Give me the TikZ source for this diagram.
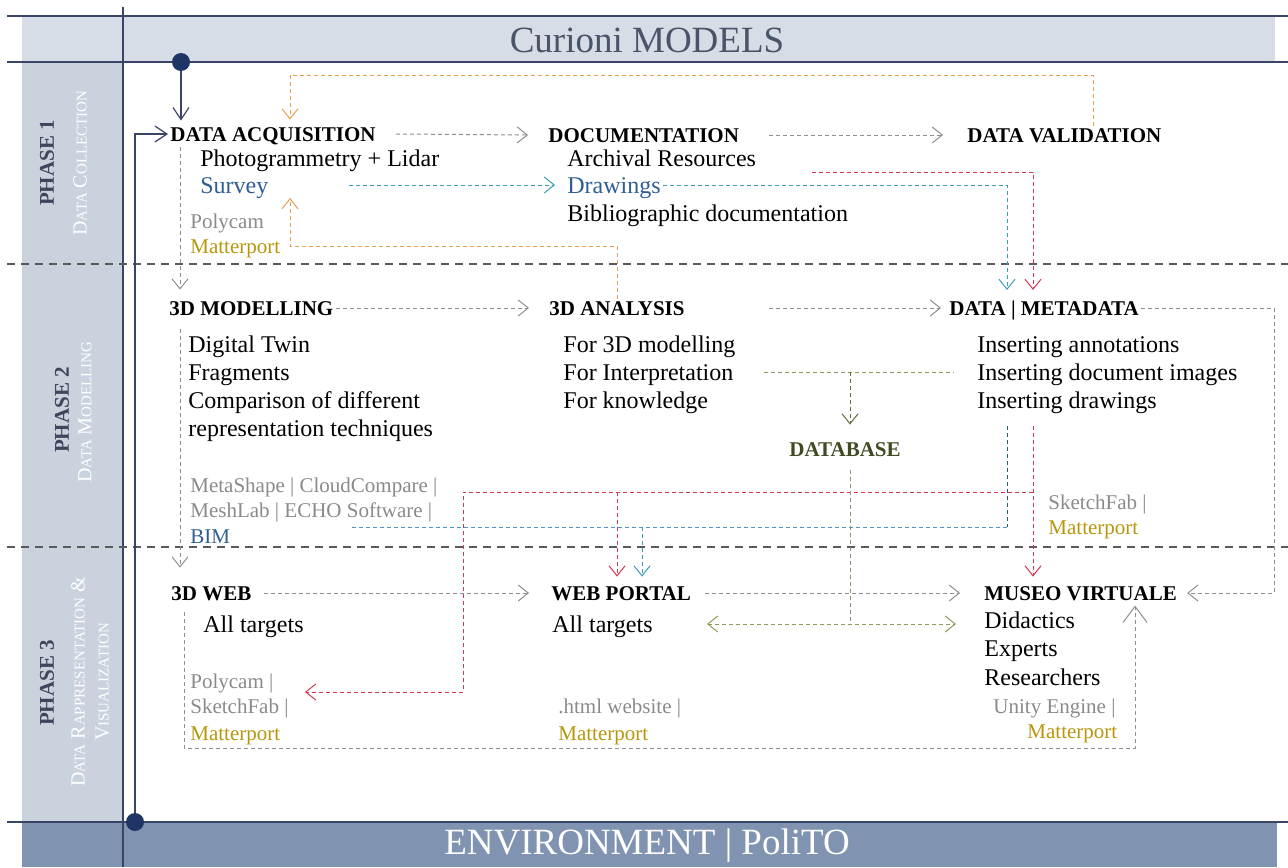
\documentclass[tikz,border=0pt]{standalone}
\usepackage{fontspec}
\setmainfont{Liberation Serif}
\usepackage{tikz}
\usetikzlibrary{arrows.meta}
\newcommand{\dotrad}{9pt}
\newcommand{\smc}[2]{#1{\fontsize{7.5}{9}\selectfont #2}}
\definecolor{navy}{HTML}{1F3566}
\definecolor{framec}{HTML}{3A4466}
\definecolor{bandtop}{HTML}{D7DDE7}
\definecolor{bandside}{HTML}{CAD2DE}
\definecolor{bandbot}{HTML}{8094B2}
\definecolor{titlec}{HTML}{4A5468}
\definecolor{phasec}{HTML}{3C465C}
\definecolor{linkgray}{HTML}{8E8E8E}
\definecolor{sepgray}{HTML}{5A5A5A}
\definecolor{orgc}{HTML}{E6A052}
\definecolor{tealc}{HTML}{3A9DB8}
\definecolor{bluec}{HTML}{4F94C8}
\definecolor{redc}{HTML}{D6364F}
\definecolor{olivec}{HTML}{8C9C58}
\definecolor{survc}{HTML}{2F5E94}
\definecolor{goldc}{HTML}{B8960C}
\definecolor{toolc}{HTML}{8A8A8A}
\definecolor{dbc}{HTML}{3F4B22}

\tikzset{
  head/.style={font=\bfseries\fontsize{10.5}{12}\selectfont, anchor=base west,
    inner sep=1pt, text height=7pt, text depth=0pt},
  item/.style={font=\fontsize{12}{14}\selectfont, anchor=base west,
    inner sep=1pt, text height=8pt, text depth=0pt},
  tool/.style={font=\fontsize{10.5}{12}\selectfont, anchor=base west,
    inner sep=1pt, text height=7pt, text depth=0pt, text=toolc},
  dl/.style={draw=#1, line width=.5pt, dash pattern=on 2pt off 1.5pt},
  dl/.default=linkgray,
  arr/.style={-{Straight Barb[length=5pt,width=8pt]}},
  arrboth/.style={{Straight Barb[length=5pt,width=8pt]}-{Straight Barb[length=5pt,width=8pt]}},
  sep/.style={draw=sepgray, line width=.8pt, dash pattern=on 4pt off 3pt},
  frame/.style={draw=framec, line width=.8pt},
  spine/.style={draw=framec, line width=.6pt, -{Straight Barb[length=6pt,width=8pt]}},
  dot/.style={circle, fill=navy, inner sep=0pt, minimum size=\dotrad},
  phase/.style={rotate=90, font=\bfseries\fontsize{10.5}{12}\selectfont, text=phasec},
  phasesub/.style={rotate=90, font=\fontsize{10}{12}\selectfont, text=white, align=center},
}

\begin{document}
\begin{tikzpicture}[x=.5pt,y=-.5pt]
\useasboundingbox (0,0) rectangle (1288,867);

%% frame: title band, phase column, environment band
\fill[bandtop] (22,16) rectangle (1275,62);
\fill[bandside] (22,62) rectangle (123,822);
\fill[bandbot] (22,822) rectangle (1277,867);
\draw[frame] (7,16) -- (1288,16);
\draw[frame] (7,62) -- (1288,62);
\draw[frame] (7,822) -- (1288,822);
\draw[frame] (123,7) -- (123,867);
\foreach \y in {264,547}
{ \draw[sep] (7,\y) -- (1288,\y);}

\node (title) at (647,40) [font=\fontsize{18.5}{20}\selectfont, text=titlec] {Curioni MODELS};
\node (env) at (647,846) [font=\fontsize{18.5}{20}\selectfont, text=white] {ENVIRONMENT | PoliTO};

%% phase labels
\node (p1) at (47,163) [phase] {PHASE 1};
\node (p1s) at (80,163) [phasesub] {\smc{D}{ATA} \smc{C}{OLLECTION}};
\node (p2) at (62,410) [phase] {PHASE 2};
\node (p2s) at (85,412) [phasesub] {\smc{D}{ATA} \smc{M}{ODELLING}};
\node (p3) at (47,683) [phase] {PHASE 3};
\node (p3s) at (90,682) [phasesub] {\smc{D}{ATA} \smc{R}{APPRESENTATION} \&\\ \smc{V}{ISUALIZATION}};

%% phase 1
\node (da) at (168,141) [head] {DATA ACQUISITION};
\node (pl) at (198,166) [item] {Photogrammetry + Lidar};
\node (sur) at (198,193) [item, text=survc] {Survey};
\node (pc1) at (188,228) [tool] {Polycam};
\node (mp1) at (188,253) [tool, text=goldc] {Matterport};
\node (doc) at (546,142) [head] {DOCUMENTATION};
\node (arc) at (565,166) [item] {Archival Resources};
\node (drw) at (565,193) [item, text=survc] {Drawings};
\node (bib) at (565,221) [item] {Bibliographic documentation};
\node (dv) at (965,142) [head] {DATA VALIDATION};

%% phase 2
\node (mod) at (167,315) [head] {3D MODELLING};
\foreach \t [count=\i] in {Digital Twin, Fragments, Comparison of different, representation techniques}
{ \node (mod\i) at (186,{352+28.3*(\i-1)}) [item] {\t};}
\node (sw1) at (188,492) [tool] {MetaShape | CloudCompare |};
\node (sw2) at (188,517) [tool] {MeshLab | ECHO Software |};
\node (bim) at (188,543) [tool, text=survc] {BIM};
\node (ana) at (547,315) [head] {3D ANALYSIS};
\foreach \t [count=\i] in {For 3D modelling, For Interpretation, For knowledge}
{ \node (ana\i) at (561,{352+28*(\i-1)}) [item] {\t};}
\node (dm) at (947,315) [head] {DATA | METADATA};
\foreach \t [count=\i] in {Inserting annotations, Inserting document images, Inserting drawings}
{ \node (dm\i) at (975,{352+28*(\i-1)}) [item] {\t};}
\node (db) at (845,449) [head, anchor=center, text=dbc] {DATABASE};
\node (sk2) at (1046,509) [tool] {SketchFab |};
\node (mp2) at (1046,534) [tool, text=goldc] {Matterport};

%% phase 3
\node (web) at (169,600) [head] {3D WEB};
\node (wat) at (201,632) [item] {All targets};
\node (pc3) at (188,688) [tool] {Polycam |};
\node (sk3) at (188,713) [tool] {SketchFab |};
\node (mp3) at (188,740) [tool, text=goldc] {Matterport};
\node (wp) at (549,600) [head] {WEB PORTAL};
\node (wpt) at (550,632) [item] {All targets};
\node (htm) at (556,713) [tool] {.html website |};
\node (mp4) at (556,740) [tool, text=goldc] {Matterport};
\node (mv) at (982,600) [head] {MUSEO VIRTUALE};
\foreach \t [count=\i] in {Didactics, Experts, Researchers}
{ \node (mv\i) at (982,{628+28.5*(\i-1)}) [item] {\t};}
\node (uni) at (991,713) [tool] {Unity Engine |};
\node (mp5) at (1025,738) [tool, text=goldc] {Matterport};

%% spine of the frame
\node (top) at (181,62) [dot] {};
\node (bot) at (135,822) [dot] {};
\draw[spine] (top) -- ([yshift=2pt]top |- da.north);
\draw[spine] (bot) |- (da.west);

%% main flow
\coordinate (lx) at (180,0);
\draw[dl, arr] ([xshift=9pt]da.east) -- ([xshift=-9pt]doc.west);
\draw[dl, arr] ([xshift=14pt]doc.east) -- ([xshift=-11pt]dv.west);
\draw[dl, arr] (mod.east) -- ([xshift=-9pt]ana.west);
\draw[dl, arr] ([xshift=41pt]ana.east) -- ([xshift=-3pt]dm.west);
\draw[dl, arr] ([xshift=5pt]web.east) -- ([xshift=-10pt]wp.west);
\draw[dl, arr] ([xshift=6pt]wp.east) -- ([xshift=-11pt]mv.west);
\draw[dl, arr] ([yshift=-2pt]da.south -| lx) -- ([yshift=4.5pt]mod.north -| lx);
\draw[dl, arr] ([yshift=-6pt]mod.south -| lx) -- ([yshift=8pt]web.north -| lx);

%% loops into the museum
\coordinate (lb) at (184,748);
\coordinate (rb) at (1135,748);
\coordinate (rr) at (1274,0);
\draw[dl, -{Straight Barb[length=8pt,width=12pt]}] ([yshift=-5pt]web.south -| lb) -- (lb) -- (rb) -- ([yshift=2pt]rb |- mv1.north);
\draw[dl, arr] (dm.east) -| (rr |- mv.east) -- ([xshift=4pt]mv.east);

%% validation feedback (orange)
\coordinate (o1) at (1093,75);
\coordinate (o2) at (290,75);
\coordinate (o3) at (290,246);
\coordinate (sin) at (290,198);
\draw[dl=orgc, arr] (dv.north -| o1) -- (o1) -- (o2) -- ([yshift=2.5pt]da.north -| o2);
\draw[dl=orgc, arr] (ana.north) |- (o3) -- (sin);

%% drawings (teal) and red link into metadata
\coordinate (t1) at (1007,290);
\coordinate (r0) at (812,172);
\coordinate (r1) at (1033,290);
\draw[dl=tealc, arr] ([xshift=39pt]sur.east) -- ([xshift=-5pt]drw.west);
\draw[dl=tealc, arr] (drw.east) -| (t1);
\draw[dl=redc, arr] (r0) -| (r1);

%% metadata to the outputs
\coordinate (rx) at (1033,0);
\coordinate (r2) at (463,492);
\coordinate (r3) at (305,692);
\coordinate (r4) at (617,492);
\draw[dl=redc, arr] ([yshift=-8pt]dm3.south -| rx) -- ([yshift=3.5pt]mv.north -| rx);
\draw[dl=redc, arr] (rx |- r2) -- (r2) |- (r3);
\draw[dl=redc, arr] (r4) -- ([yshift=3.5pt]wp.north -| r4);
\coordinate (tx) at (1007,0);
\coordinate (t2) at (1007,527);
\coordinate (t3) at (350,527);
\coordinate (t4) at (642,527);
\draw[dl=tealc!60!black] ([yshift=-8pt]dm3.south -| tx) -- (t2);
\draw[dl=bluec] (t2) -- (t3);
\draw[dl=tealc, arr] (t4) -- ([yshift=3.5pt]wp.north -| t4);

%% database
\coordinate (gx) at (850,372);
\draw[dl=olivec] ([xshift=14pt]ana2.east) -- ([xshift=-11pt]dm2.west);
\draw[dl=olivec!70!black, arr] (gx) -- ([yshift=7.5pt]db.north -| gx);
\draw[dl=olivec!50!linkgray] ([yshift=-6pt]db.south -| gx) -- (gx |- wpt.east);
\draw[dl=olivec, arrboth] ([xshift=26pt]wpt.east) -- ([xshift=-13pt]wpt.east -| mv1.west);

\end{tikzpicture}
\end{document}
